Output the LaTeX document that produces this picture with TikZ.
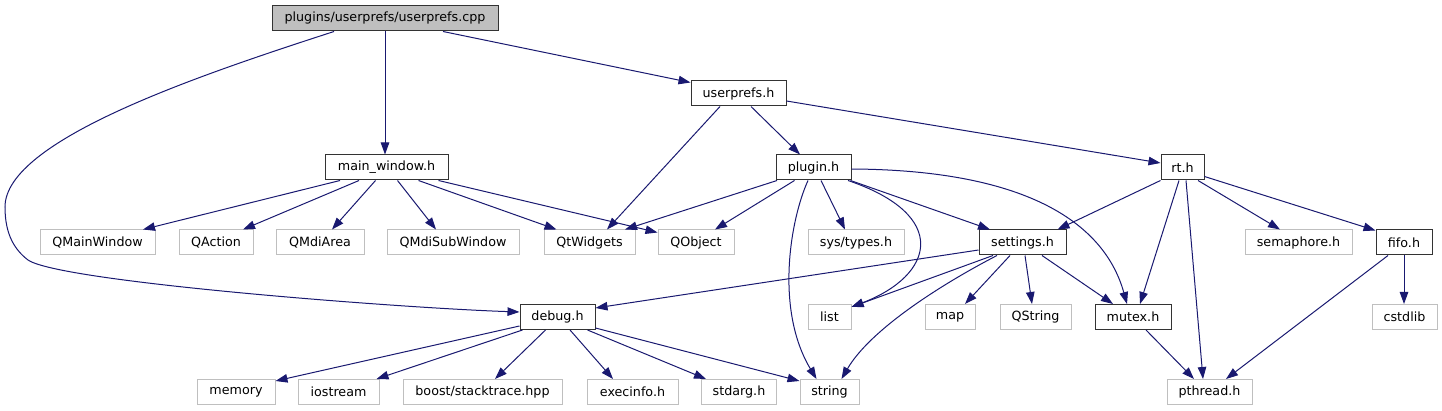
\documentclass[tikz,border=0pt]{standalone}
\usepackage{fontspec}
\setmainfont{DejaVu Sans}
\usetikzlibrary{arrows.meta}
\definecolor{edgec}{HTML}{191970}
\definecolor{greyc}{HTML}{BFBFBF}
\begin{document}
\begin{tikzpicture}[x=1pt,y=-1pt,
  base/.style={rectangle, minimum height=25pt, inner sep=0pt, font=\fontsize{12.7}{15}\selectfont, line width=1pt},
  ibox/.style={base, draw=black!80},
  ebox/.style={base, draw=greyc},
  rootbox/.style={base, draw=black!80, fill=greyc},
  edge/.style={draw=edgec, line width=1pt, -{Triangle[length=12pt,width=8.5pt]}}]
\useasboundingbox (0,0) rectangle (1442,411);
% nodes
\node[rootbox, minimum width=226pt] (cpp) at (385,18.5) {plugins/userprefs/userprefs.cpp};
\node[ibox, minimum width=95pt] (upref) at (738.5,93.5) {userprefs.h};
\node[ibox, minimum width=123pt] (mainw) at (386.5,167.5) {main\_window.h};
\node[ibox, minimum width=75pt] (plugin) at (813.5,167.5) {plugin.h};
\node[ibox, minimum width=43pt] (rt) at (1182.5,167.5) {rt.h};
\node[ebox, minimum width=115pt] (qmw) at (97.5,242.5) {QMainWindow};
\node[ebox, minimum width=74pt] (qact) at (216,242.5) {QAction};
\node[ebox, minimum width=88pt] (qmdi) at (320,242.5) {QMdiArea};
\node[ebox, minimum width=132pt] (qsub) at (453,242.5) {QMdiSubWindow};
\node[ebox, minimum width=91pt] (qtw) at (589.5,242.5) {QtWidgets};
\node[ebox, minimum width=76pt] (qobj) at (696,242.5) {QObject};
\node[ebox, minimum width=96pt] (systypes) at (856,242.5) {sys/types.h};
\node[ibox, minimum width=87pt] (settings) at (1022.5,242.5) {settings.h};
\node[ebox, minimum width=107pt] (sem) at (1298.5,242.5) {semaphore.h};
\node[ibox, minimum width=56pt] (fifo) at (1404,242.5) {fifo.h};
\node[ibox, minimum width=75pt] (debug) at (557.5,317) {debug.h};
\node[ebox, minimum width=43pt] (list) at (829.5,317) {list};
\node[ebox, minimum width=50pt] (map) at (950,317) {map};
\node[ebox, minimum width=71pt] (qstr) at (1035.5,317) {QString};
\node[ibox, minimum width=76pt] (mutex) at (1133,317) {mutex.h};
\node[ebox, minimum width=65pt] (cstdlib) at (1404.5,317) {cstdlib};
\node[ebox, minimum width=78pt] (memory) at (236,392) {memory};
\node[ebox, minimum width=81pt] (iostream) at (338.5,392) {iostream};
\node[ebox, minimum width=159pt] (boost) at (482.5,392) {boost/stacktrace.hpp};
\node[ebox, minimum width=91pt] (execinfo) at (632.5,392) {execinfo.h};
\node[ebox, minimum width=75pt] (stdarg) at (739,392) {stdarg.h};
\node[ebox, minimum width=59pt] (string) at (829.5,392) {string};
\node[ebox, minimum width=85pt] (pthread) at (1209.5,392) {pthread.h};
% edges
\draw[edge] (cpp.south) -- ([xshift=-1.5pt]mainw.north);
\draw[edge] ([xshift=58pt]cpp.south) -- ([yshift=-2pt]upref.north west);
\draw[edge] ([xshift=-51pt]cpp.south) .. controls (200,75) and (5,140) .. (5,207)
   .. controls (5,235) and (15,250) .. (28,260)
   .. controls (60,282) and (400,308) .. ([yshift=5pt]debug.west);
\draw[edge] ([xshift=-18.5pt]upref.south) -- ([xshift=17.5pt]qtw.north);
\draw[edge] ([xshift=12.5pt]upref.south) -- ([xshift=-13.5pt]plugin.north);
\draw[edge] ([yshift=-7.5pt]upref.east) -- ([yshift=4.5pt]rt.west);
\draw[edge] ([xshift=-46.5pt]mainw.south) -- ([xshift=45.5pt]qmw.north);
\draw[edge] ([xshift=-27.5pt]mainw.south) -- ([xshift=27pt]qact.north);
\draw[edge] ([xshift=-11pt]mainw.south) -- ([xshift=12pt]qmdi.north);
\draw[edge] ([xshift=11pt]mainw.south) -- ([xshift=-17pt]qsub.north);
\draw[edge] ([xshift=32pt]mainw.south) -- ([xshift=-33pt]qtw.north);
\draw[edge] ([xshift=52pt]mainw.south) -- ([yshift=-3pt]qobj.north west);
\draw[edge] ([xshift=-36.5pt]plugin.south) -- ([xshift=35.5pt]qtw.north);
\draw[edge] ([xshift=-19pt]plugin.south) -- ([xshift=19pt]qobj.north);
\draw[edge] ([xshift=7.5pt]plugin.south) -- ([xshift=-11pt]systypes.north);
\draw[edge] ([xshift=-5.5pt]plugin.south) .. controls (790,220) and (775,310) .. ([xshift=-13pt]string.north);
\draw[edge] ([xshift=34.5pt]plugin.south) .. controls (950,215) and (935,275) .. ([yshift=-3pt]list.north east);
\draw[edge] ([xshift=-1pt]plugin.south east) -- ([xshift=-32.5pt]settings.north);
\draw[edge] ([yshift=-1.5pt]plugin.east) .. controls (1030,170) and (1105,225) .. ([xshift=-6pt]mutex.north);
\draw[edge] ([xshift=-22pt]rt.south) -- ([xshift=35pt]settings.north);
\draw[edge] ([xshift=-3.5pt]rt.south) -- ([xshift=7pt]mutex.north);
\draw[edge] ([xshift=3.5pt]rt.south) -- ([xshift=-6.5pt]pthread.north);
\draw[edge] ([xshift=15.5pt]rt.south) -- ([xshift=-18.5pt]sem.north);
\draw[edge] ([yshift=-9pt]rt.east) -- ([yshift=-1pt]fifo.north west);
\draw[edge] ([yshift=-7.5pt]settings.west) -- ([yshift=9pt]debug.east);
\draw[edge] ([xshift=-29.5pt]settings.south) -- ([yshift=-3pt]list.north east);
\draw[edge] ([xshift=-25.5pt]settings.south) .. controls (940,285) and (870,330) .. ([xshift=12pt]string.north);
\draw[edge] ([xshift=-12.5pt]settings.south) -- ([xshift=15pt]map.north);
\draw[edge] ([xshift=2.5pt]settings.south) -- ([xshift=-3.5pt]qstr.north);
\draw[edge] ([xshift=19.5pt]settings.south) -- ([xshift=-20pt]mutex.north);
\draw[edge] (fifo.south) -- (fifo.south |- cstdlib.north);
\draw[edge] ([xshift=-16pt]fifo.south) -- ([xshift=16.5pt]pthread.north);
\draw[edge] ([xshift=13pt]mutex.south) -- ([xshift=-15.5pt]pthread.north);
\draw[edge] ([yshift=-9pt]debug.west) -- ([yshift=-2pt]memory.north east);
\draw[edge] ([xshift=3pt]debug.south west) -- ([xshift=-3pt]iostream.north east);
\draw[edge] ([xshift=-12pt]debug.south) -- ([xshift=12.5pt]boost.north);
\draw[edge] ([xshift=12.5pt]debug.south) -- ([xshift=-19.5pt]execinfo.north);
\draw[edge] ([xshift=30pt]debug.south) -- ([xshift=5pt]stdarg.north west);
\draw[edge] ([yshift=2pt]debug.south east) -- ([yshift=-2pt]string.north west);
\end{tikzpicture}
\end{document}
